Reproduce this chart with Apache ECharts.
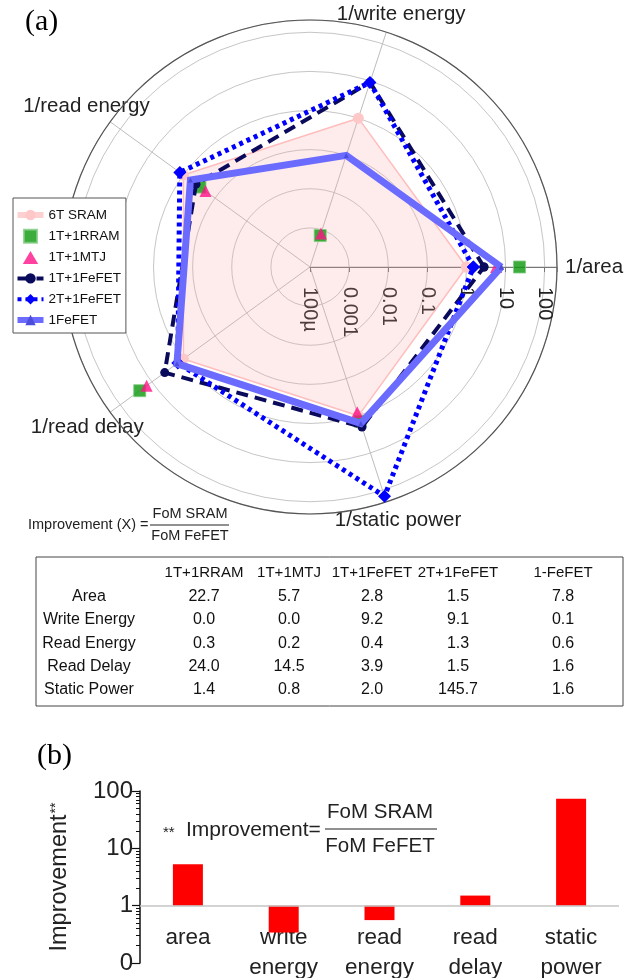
<!DOCTYPE html>
<html>
<head>
<meta charset="utf-8">
<script src="https://cdn.jsdelivr.net/npm/echarts@6/dist/echarts.min.js"></script>
<style>
  html, body { margin: 0; padding: 0; background: #fff; }
  #chart { width: 641px; height: 978px; }
</style>
</head>
<body>
<div id="chart"></div>
<script>
// ---- radar (polar, log radius) ----
const radarAxes = ['1/area', '1/write energy', '1/read energy', '1/read delay', '1/static power'];
const radarAngles = [0, 72, 144, 216, 288];
const radiusTickLabels = ['100µ', '0.001', '0.01', '0.1', '1', '10', '100']; // 1e-4 ... 1e2

const seriesNames = ['6T SRAM', '1T+1RRAM', '1T+1MTJ', '1T+1FeFET', '2T+1FeFET', '1FeFET'];
const sram6T   = [1, 1, 1, 1, 1];
const rram     = [22.7, 0.0007, 0.3, 24.0, 1.4];
const mtj      = [5.7, 0.0008, 0.2, 14.5, 0.8];
const fefet1T1 = [2.8, 9.2, 0.4, 3.9, 2.0];
const fefet2T1 = [1.5, 9.1, 1.3, 1.5, 145.7];
const fefet1   = [7.8, 0.1, 0.6, 1.6, 1.6];

// ---- table ----
const tableCols = ['1T+1RRAM', '1T+1MTJ', '1T+1FeFET', '2T+1FeFET', '1-FeFET'];
const tableRows = ['Area', 'Write Energy', 'Read Energy', 'Read Delay', 'Static Power'];
const tableSeries = [rram, mtj, fefet1T1, fefet2T1, fefet1];

// ---- bar chart (b) ----
const barCats = ['area', 'write\nenergy', 'read\nenergy', 'read\ndelay', 'static\npower'];
const barValues = [5.3, 0.34, 0.56, 1.5, 73];
const barTickLabels = ['0', '1', '10', '100']; // 0.1, 1, 10, 100
const barMinorTicks = [0.2, 0.3, 0.4, 0.5, 0.6, 0.7, 0.8, 0.9,
                       2, 3, 4, 5, 6, 7, 8, 9,
                       20, 30, 40, 50, 60, 70, 80, 90];

const FONT = '"Liberation Sans", Arial, Helvetica, sans-serif';
const SERIF = '"Liberation Serif", "Times New Roman", serif';

function polarData(vals, close) {
  const d = vals.map((v, i) => [v, radarAngles[i]]);
  if (close) d.push([vals[0], 360]);
  return d;
}
function decadeIndex(v) {
  const l = Math.log10(v);
  const r = Math.round(l);
  return Math.abs(l - r) < 1e-6 ? r : null;
}

const labelBase = { fontSize: 20.5, fontFamily: FONT, color: '#222' };

// table graphic
const tbl = { x: 36, y: 557, w: 587, h: 149, labelX: 89, colX: [204, 289, 372, 458, 563], headY: 573, rowY: [597, 620, 644, 667, 690] };
const tableEls = [{
  type: 'rect', shape: { x: tbl.x, y: tbl.y, width: tbl.w, height: tbl.h },
  style: { fill: '#fff', stroke: '#444', lineWidth: 1 }
}];
const headFont = `15px ${FONT}`;
const cellFont = `16px ${FONT}`;
tableCols.forEach((c, j) => tableEls.push({ type: 'text', style: { text: c, x: tbl.colX[j], y: tbl.headY, font: headFont, fill: '#111', align: 'center', verticalAlign: 'middle' } }));
tableRows.forEach((r, i) => {
  tableEls.push({ type: 'text', style: { text: r, x: tbl.labelX, y: tbl.rowY[i], font: cellFont, fill: '#111', align: 'center', verticalAlign: 'middle' } });
  tableSeries.forEach((s, j) => tableEls.push({ type: 'text', style: { text: s[i].toFixed(1), x: tbl.colX[j], y: tbl.rowY[i], font: cellFont, fill: '#111', align: 'center', verticalAlign: 'middle' } }));
});

const option = {
  animation: false,
  backgroundColor: '#fff',
  polar: { center: [310, 267], radius: 247 },
  angleAxis: {
    type: 'value', min: 0, max: 360, interval: 72, startAngle: 0, clockwise: false,
    axisLine: { show: true, lineStyle: { color: '#555', width: 1.2 } },
    axisTick: { show: false },
    splitLine: { show: true, lineStyle: { color: '#bdbdbd', width: 1 } },
    axisLabel: {
      margin: 8,
      formatter: v => { const i = radarAngles.indexOf(v); return (i < 0 || v === 360) ? '' : `{a${i}|${radarAxes[i]}}`; },
      rich: {
        a0: Object.assign({}, labelBase),
        a1: Object.assign({ padding: [0, 0, 0, -52] }, labelBase),
        a2: Object.assign({ padding: [0, -46, 0, 0] }, labelBase),
        a3: Object.assign({ padding: [0, -40, 0, 0] }, labelBase),
        a4: Object.assign({ padding: [0, 0, 0, -54] }, labelBase)
      }
    }
  },
  radiusAxis: {
    type: 'log', min: 1e-4, max: 206,
    axisLine: { show: true, lineStyle: { color: '#777', width: 1.2 } },
    axisTick: { show: true, length: -5, lineStyle: { color: '#777' } },
    splitLine: { show: true, lineStyle: { color: '#c6c6c6', width: 1 } },
    axisLabel: {
      rotate: -90, margin: -20, align: 'left', fontSize: 20, fontFamily: FONT, color: '#222',
      formatter: v => { const k = decadeIndex(v); return (k === null || radiusTickLabels[k + 4] === undefined) ? '' : radiusTickLabels[k + 4]; }
    }
  },
  legend: {
    orient: 'vertical', left: 13, top: 198,
    itemWidth: 26, itemHeight: 13, itemGap: 6.8,
    padding: [10, 5, 6, 1.5],
    borderColor: '#555', borderWidth: 1, backgroundColor: '#fff',
    textStyle: { fontSize: 13.5, fontFamily: FONT, color: '#111' },
    data: [
      { name: '6T SRAM', lineStyle: { width: 6, color: '#ffd0d0' } },
      { name: '1T+1RRAM', icon: 'path://M0,0L10,0L10,10L0,10Z' },
      { name: '1T+1MTJ', icon: 'path://M5,0L10,8.5L0,8.5Z' },
      { name: '1T+1FeFET', lineStyle: { width: 4 } },
      { name: '2T+1FeFET', lineStyle: { width: 4 } },
      { name: '1FeFET', lineStyle: { width: 6 } }
    ]
  },
  grid: { left: 140, right: 22, top: 791, height: 172, outerBoundsMode: 'none', containLabel: false },
  xAxis: {
    type: 'category', data: barCats,
    axisLine: { show: false }, axisTick: { show: false },
    axisLabel: { margin: -40, fontSize: 22.5, lineHeight: 30, fontFamily: FONT, color: '#222', interval: 0 }
  },
  yAxis: [{
    type: 'log', min: 0.1, max: 100,
    axisLine: { show: true, lineStyle: { color: '#111', width: 1.5 } },
    axisTick: { show: true, length: 8, lineStyle: { color: '#111', width: 1.2 } },
    splitLine: { show: false },
    axisLabel: {
      margin: 7, fontSize: 24, fontFamily: FONT, color: '#222',
      formatter: v => { const k = decadeIndex(v); return k === null ? '' : (barTickLabels[k + 1] || ''); }
    },
    name: '{t|Improvement}{s|**}', nameLocation: 'middle', nameGap: 68, nameRotate: 90,
    nameTextStyle: {
      rich: {
        t: { fontSize: 23.5, fontFamily: FONT, color: '#222' },
        s: { fontSize: 14, fontFamily: FONT, color: '#222', padding: [0, 0, 7, 1] }
      }
    }
  }, {
    type: 'log', min: 0.1, max: 100, position: 'left',
    axisLine: { show: false }, axisLabel: { show: false }, splitLine: { show: false },
    axisTick: { show: true, length: 4, customValues: barMinorTicks, lineStyle: { color: '#111', width: 1 } }
  }],
  graphic: [
    { type: 'text', style: { text: '(a)', x: 25, y: 22, font: `30px ${SERIF}`, fill: '#000', verticalAlign: 'middle' } },
    { type: 'text', style: { text: '(b)', x: 37, y: 756, font: `30px ${SERIF}`, fill: '#000', verticalAlign: 'middle' } },
    // improvement definition under the radar
    { type: 'text', style: { text: 'Improvement (X) =', x: 28, y: 525, font: `14.5px ${FONT}`, fill: '#222', verticalAlign: 'middle' } },
    { type: 'text', style: { text: 'FoM SRAM', x: 190, y: 514, font: `14.5px ${FONT}`, fill: '#222', align: 'center', verticalAlign: 'middle' } },
    { type: 'line', shape: { x1: 150, y1: 525, x2: 229, y2: 525 }, style: { stroke: '#222', lineWidth: 1 } },
    { type: 'text', style: { text: 'FoM FeFET', x: 190, y: 535.5, font: `14.5px ${FONT}`, fill: '#222', align: 'center', verticalAlign: 'middle' } },
    // improvement definition in (b)
    { type: 'text', style: { text: '**', x: 163, y: 833, font: `15px ${FONT}`, fill: '#222', verticalAlign: 'middle' } },
    { type: 'text', style: { text: 'Improvement=', x: 186, y: 830, font: `21px ${FONT}`, fill: '#222', verticalAlign: 'middle' } },
    { type: 'text', style: { text: 'FoM SRAM', x: 380, y: 812, font: `20.5px ${FONT}`, fill: '#222', align: 'center', verticalAlign: 'middle' } },
    { type: 'line', shape: { x1: 325, y1: 829, x2: 437, y2: 829 }, style: { stroke: '#222', lineWidth: 1.2 } },
    { type: 'text', style: { text: 'FoM FeFET', x: 380, y: 846, font: `20.5px ${FONT}`, fill: '#222', align: 'center', verticalAlign: 'middle' } },
    { type: 'group', children: tableEls }
  ],
  series: [
    {
      name: '6T SRAM', type: 'line', coordinateSystem: 'polar', data: polarData(sram6T, true),
      symbol: 'circle', symbolSize: 11, itemStyle: { color: '#ffc8c8' },
      lineStyle: { color: '#ffbdbd', width: 1.5 },
      areaStyle: { color: 'rgba(250,160,160,0.3)' }, z: 2
    },
    {
      name: '1T+1RRAM', type: 'scatter', coordinateSystem: 'polar', data: polarData(rram, false), clip: false,
      symbol: 'rect', symbolSize: 12, itemStyle: { color: '#0b990b', borderColor: '#80cc80', borderWidth: 1 }, z: 3
    },
    {
      name: '1T+1MTJ', type: 'scatter', coordinateSystem: 'polar', data: polarData(mtj, false), clip: false,
      symbol: 'triangle', symbolSize: 12, itemStyle: { color: '#ff1287' }, z: 3
    },
    {
      name: '1T+1FeFET', type: 'line', coordinateSystem: 'polar', data: polarData(fefet1T1, true),
      symbol: 'circle', symbolSize: 9, itemStyle: { color: '#0a0a5c' },
      lineStyle: { color: '#0a0a5c', width: 4, type: [12, 7] }, z: 4
    },
    {
      name: '2T+1FeFET', type: 'line', coordinateSystem: 'polar', data: polarData(fefet2T1, true),
      symbol: 'diamond', symbolSize: 13, itemStyle: { color: '#0000ff' },
      lineStyle: { color: '#0000ff', width: 5, type: [4, 4] }, z: 5
    },
    {
      name: '1FeFET', type: 'line', coordinateSystem: 'polar', data: polarData(fefet1, true),
      symbol: 'triangle', symbolSize: 5, itemStyle: { color: '#4c4cdd' },
      lineStyle: { color: '#6b6bff', width: 7, join: 'miter' }, z: 6
    },
    {
      name: 'improvement', type: 'bar', data: barValues, barWidth: 30,
      itemStyle: { color: '#ff0000' },
      markLine: {
        silent: true, symbol: 'none', label: { show: false },
        lineStyle: { color: '#c4c4c4', width: 1.5, type: 'solid' },
        data: [{ yAxis: 1 }]
      }
    }
  ]
};

const chart = echarts.init(document.getElementById('chart'), null, { renderer: 'canvas' });
chart.setOption(option);
</script>
</body>
</html>
